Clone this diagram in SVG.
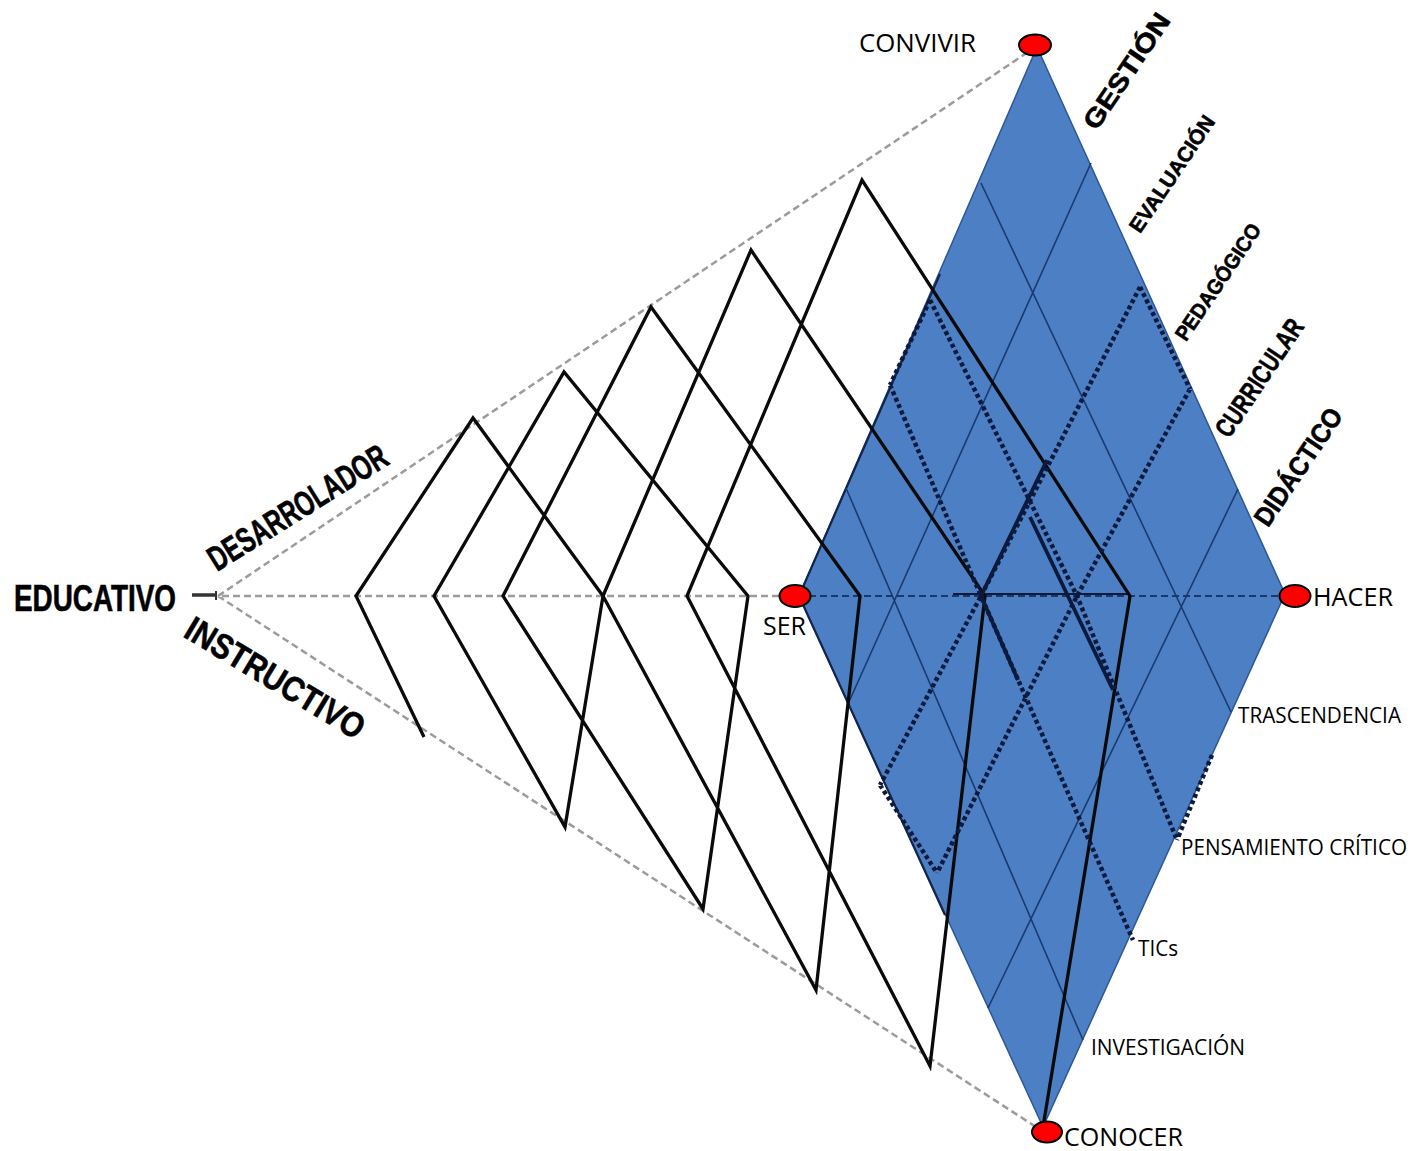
<svg xmlns="http://www.w3.org/2000/svg" width="1416" height="1151" viewBox="0 0 1416 1151">
  <style>
    .guide{fill:none;stroke:#9b9b9b;stroke-width:2.5;stroke-dasharray:7 4}
    .axis{fill:none;stroke:#1d3766;stroke-width:2;stroke-dasharray:7 4}
    .zig{fill:none;stroke:#0a0a0a;stroke-width:3.3;stroke-linejoin:miter}
    .grid{fill:none;stroke:#1c3a70;stroke-width:1.6}
    .rim{fill:none;stroke:#13254d;stroke-width:2.2}
    .dots{fill:none;stroke:#0b1a3d;stroke-width:4.5;stroke-dasharray:4 3}
    .heavy{fill:none;stroke:#0b1a3d;stroke-width:3.8}
    .pt{fill:#ff0000;stroke:#000;stroke-width:2}
    .lbl{font-family:"Open Sans","Liberation Sans",sans-serif;fill:#000}
    .bold{font-family:"Liberation Sans",Arial,sans-serif;font-weight:bold;fill:#000;stroke:#000;stroke-width:0.6}
  </style>
  <rect width="1416" height="1151" fill="#ffffff"/>

  <!-- front plane: the blue rhombus with its internal grid -->
  <g id="plane">
    <polygon points="1037,47 1285,594 1043,1127 799,596" fill="#4c7fc4" stroke="#2d5797" stroke-width="1.5"/>
    <path class="rim" d="M940,274 L799,596 L945,915"/>
    <path class="grid" d="M981,183 L1231,712 M1091,163 L848,704 M1238,489 L988,1008 M846,488 L1083,1040"/>
  </g>

  <!-- connectors: perspective guides, zigzag planes and overlays -->
  <g id="connectors">
    <path class="guide" d="M218,596 L1028,52 M218,596 L1036,1127 M222,596 L782,596"/>
    <path class="axis" d="M809,596 L1282,596"/>
    <path d="M953,594 L1130,594" fill="none" stroke="#0b1a3d" stroke-width="2"/>
    <path class="zig" d="M424,737 L356,596 L473,418 L603,596 L565,827 L434,596 L564,372 L748,596 L703,909 L503,596 L651,307 L860,596 L816,990 L603,596 L751,250 L985,596 L930,1066 L687,596 L862,180 L1130,596 L1043,1127"/>
    <path class="dots" d="M890,385 L981,596 L880,785 M1140,287 L981,596 L1133,940 M930,300 L1077,596 L1177,840 M1190,389 L1077,596 L937,873 M930,300 L890,385 M880,785 L937,873 M1140,287 L1190,389 M1212,755 L1177,840"/>
    <path class="heavy" d="M1047,460 L981,596 L1018,680 M1030,517 L1113,690"/>
    <!-- origin tick -->
    <path d="M192,595 L215,595" stroke="#333" stroke-width="3.5"/>
    <path d="M216,591 L216,600" stroke="#333" stroke-width="2"/>
  </g>

  <!-- axis labels on the left -->
  <g id="node-educativo">
    <text class="bold" x="14" y="611" font-size="36" textLength="162" lengthAdjust="spacingAndGlyphs">EDUCATIVO</text>
  </g>
  <g id="node-desarrolador">
    <text class="bold" font-size="35" transform="translate(217,572) rotate(-32)" textLength="205" lengthAdjust="spacingAndGlyphs">DESARROLADOR</text>
  </g>
  <g id="node-instructivo">
    <text class="bold" font-size="35" transform="translate(182,636) rotate(31)" textLength="203" lengthAdjust="spacingAndGlyphs">INSTRUCTIVO</text>
  </g>

  <!-- levels along the upper-right edge -->
  <g id="node-gestion"><text class="bold" font-size="26" text-anchor="middle" transform="translate(1134,76) rotate(-56)" textLength="134" lengthAdjust="spacingAndGlyphs">GESTIÓN</text></g>
  <g id="node-evaluacion"><text class="bold" font-size="21" text-anchor="middle" transform="translate(1178,178) rotate(-56)" textLength="136" lengthAdjust="spacingAndGlyphs">EVALUACIÓN</text></g>
  <g id="node-pedagogico"><text class="bold" font-size="21" text-anchor="middle" transform="translate(1224,286) rotate(-56)" textLength="136" lengthAdjust="spacingAndGlyphs">PEDAGÓGICO</text></g>
  <g id="node-curricular"><text class="bold" font-size="27" text-anchor="middle" transform="translate(1267,383) rotate(-56)" textLength="136" lengthAdjust="spacingAndGlyphs">CURRICULAR</text></g>
  <g id="node-didactico"><text class="bold" font-size="27" text-anchor="middle" transform="translate(1306,472) rotate(-56)" textLength="136" lengthAdjust="spacingAndGlyphs">DIDÁCTICO</text></g>

  <!-- dimensions along the lower-right edge -->
  <g id="node-trascendencia"><text class="lbl" x="1238" y="723" font-size="21.5" textLength="163" lengthAdjust="spacingAndGlyphs">TRASCENDENCIA</text></g>
  <g id="node-pensamiento"><text class="lbl" x="1181" y="855" font-size="21" textLength="226" lengthAdjust="spacingAndGlyphs">PENSAMIENTO CRÍTICO</text></g>
  <g id="node-tics"><text class="lbl" x="1138" y="956" font-size="22" textLength="40" lengthAdjust="spacingAndGlyphs">TICs</text></g>
  <g id="node-investigacion"><text class="lbl" x="1091" y="1055" font-size="22" textLength="154" lengthAdjust="spacingAndGlyphs">INVESTIGACIÓN</text></g>

  <!-- corner points of the plane -->
  <g id="node-convivir">
    <ellipse class="pt" cx="1035" cy="45" rx="16" ry="10.5"/>
    <text class="lbl" x="859" y="52" font-size="25" textLength="117" lengthAdjust="spacingAndGlyphs">CONVIVIR</text>
  </g>
  <g id="node-ser">
    <ellipse class="pt" cx="795" cy="596" rx="15.5" ry="11"/>
    <text class="lbl" x="763" y="635" font-size="25" textLength="43" lengthAdjust="spacingAndGlyphs">SER</text>
  </g>
  <g id="node-hacer">
    <ellipse class="pt" cx="1295" cy="596" rx="15.5" ry="11"/>
    <text class="lbl" x="1313" y="606" font-size="25" textLength="80" lengthAdjust="spacingAndGlyphs">HACER</text>
  </g>
  <g id="node-conocer">
    <ellipse class="pt" cx="1047" cy="1132" rx="15" ry="10.5"/>
    <text class="lbl" x="1064" y="1146" font-size="25" textLength="119" lengthAdjust="spacingAndGlyphs">CONOCER</text>
  </g>
</svg>
